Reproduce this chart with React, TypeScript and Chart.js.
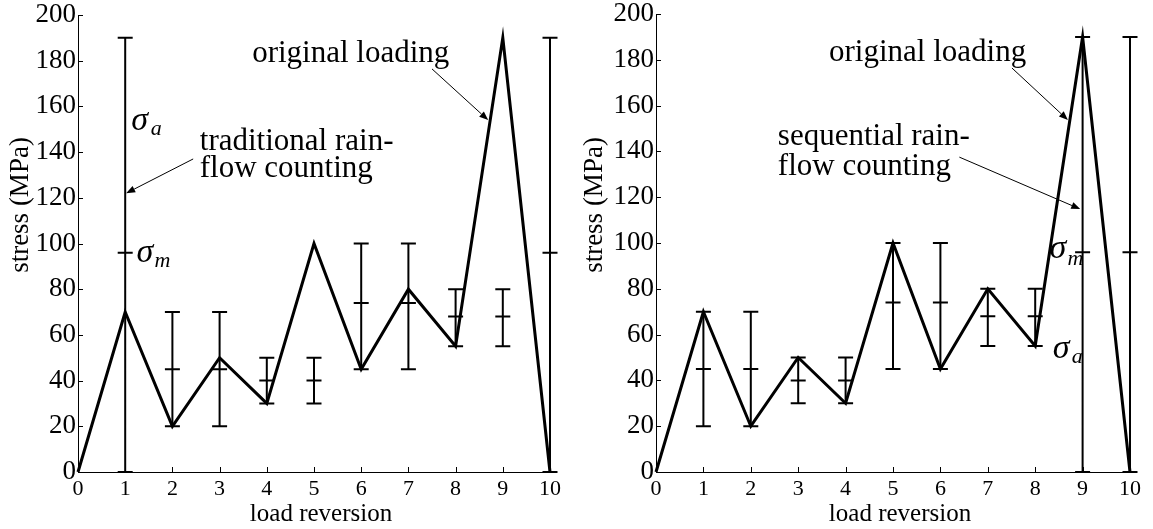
import React, { useEffect, useRef } from "react";
import { Chart, registerables } from "chart.js";

Chart.register(...registerables);

// ---------- data ----------
const reversions = [0, 1, 2, 3, 4, 5, 6, 7, 8, 9, 10];
const originalLoading = [0, 70, 20, 50, 30, 100, 45, 80, 55, 190, 0];
const xTickValues = [0, 1, 2, 3, 4, 5, 6, 7, 8, 9, 10];
const yTickValues = [0, 20, 40, 60, 80, 100, 120, 140, 160, 180, 200];

const traditionalAt = [1, 2, 3, 4, 5, 6, 7, 8, 9, 10];
const traditionalMin = [0, 20, 20, 30, 30, 45, 45, 55, 55, 0];
const traditionalMax = [190, 70, 70, 50, 50, 100, 100, 80, 80, 190];
const traditionalMean = [96, 45, 45, 40, 40, 74, 74, 68, 68, 96];

const sequentialAt = [1, 2, 3, 4, 5, 6, 7, 8, 9, 10];
const sequentialMin = [20, 20, 30, 30, 45, 45, 55, 55, 0, 0];
const sequentialMax = [70, 70, 50, 50, 100, 100, 80, 80, 190, 190];
const sequentialMean = [45, 45, 40, 40, 74, 74, 68, 68, 96, 96];

// ---------- annotations (data coordinates) ----------
type TextAnn = { text: string; x: number; y: number; size: number; italic?: boolean };
type ArrowAnn = { x0: number; y0: number; x1: number; y1: number };

const leftTexts: TextAnn[] = [
  { text: "original loading", x: 3.69, y: 179.4, size: 31 },
  { text: "traditional rain-", x: 2.58, y: 141, size: 31 },
  { text: "flow counting", x: 2.58, y: 129, size: 31 },
  { text: "σ", x: 1.13, y: 149.7, size: 34, italic: true },
  { text: "a", x: 1.54, y: 147.3, size: 22, italic: true },
  { text: "σ", x: 1.24, y: 92, size: 34, italic: true },
  { text: "m", x: 1.62, y: 89.5, size: 22, italic: true },
];
const leftArrows: ArrowAnn[] = [
  { x0: 7.5, y0: 176.4, x1: 8.69, y1: 154 },
  { x0: 2.44, y0: 137, x1: 1.02, y1: 122 },
];

const rightTexts: TextAnn[] = [
  { text: "original loading", x: 3.65, y: 179.4, size: 31 },
  { text: "sequential rain-", x: 2.57, y: 142.8, size: 31 },
  { text: "flow counting", x: 2.57, y: 129.7, size: 31 },
  { text: "σ", x: 8.3, y: 93.4, size: 34, italic: true },
  { text: "m", x: 8.68, y: 90.4, size: 22, italic: true },
  { text: "σ", x: 8.37, y: 49.8, size: 34, italic: true },
  { text: "a", x: 8.77, y: 47.4, size: 22, italic: true },
];
const rightArrows: ArrowAnn[] = [
  { x0: 7.51, y0: 176.4, x1: 8.69, y1: 153.7 },
  { x0: 6.4, y0: 137.5, x1: 8.95, y1: 114.8 },
];

const FONT = '"Liberation Serif", "Times New Roman", serif';
const CAP = 7.5;

type Panel = {
  at: number[];
  min: number[];
  max: number[];
  mean: number[];
  texts: TextAnn[];
  arrows: ArrowAnn[];
  width: number;
  left: number;
  axisWidth: number;
  padRight: number;
  padTop: number;
  yTitleX: number;
};

const panels: Panel[] = [
  {
    at: traditionalAt, min: traditionalMin, max: traditionalMax, mean: traditionalMean,
    texts: leftTexts, arrows: leftArrows,
    width: 576, left: 0, axisWidth: 78, padRight: 26, padTop: 15, yTitleX: 28,
  },
  {
    at: sequentialAt, min: sequentialMin, max: sequentialMax, mean: sequentialMean,
    texts: rightTexts, arrows: rightArrows,
    width: 577, left: 576, axisWidth: 80, padRight: 23, padTop: 14, yTitleX: 26,
  },
];

function makePlugin(p: Panel) {
  return {
    id: "rainflowDecor",
    afterDatasetsDraw(chart: any) {
      const { ctx, chartArea } = chart;
      const xs = chart.scales.x;
      const ys = chart.scales.y;
      const px = (v: number) => xs.getPixelForValue(v);
      const py = (v: number) => ys.getPixelForValue(v);
      ctx.save();
      ctx.strokeStyle = "#000";
      ctx.fillStyle = "#000";

      // inward ticks
      ctx.lineWidth = 1;
      ctx.beginPath();
      xTickValues.forEach((t) => {
        const x = Math.round(px(t)) + 0.5;
        ctx.moveTo(x, chartArea.bottom);
        ctx.lineTo(x, chartArea.bottom - 5);
      });
      yTickValues.forEach((t) => {
        const y = Math.round(py(t)) + 0.5;
        ctx.moveTo(chartArea.left, y);
        ctx.lineTo(chartArea.left + 5, y);
      });
      ctx.stroke();

      // range bars with mean marks
      ctx.lineWidth = 2;
      ctx.lineCap = "butt";
      ctx.beginPath();
      p.at.forEach((xv, i) => {
        const x = px(xv);
        const lo = py(p.min[i]);
        const hi = py(p.max[i]);
        const me = py(p.mean[i]);
        ctx.moveTo(x, lo);
        ctx.lineTo(x, hi);
        [lo, hi, me].forEach((yy) => {
          ctx.moveTo(x - CAP, yy);
          ctx.lineTo(x + CAP, yy);
        });
      });
      ctx.stroke();

      // arrows
      ctx.lineWidth = 1;
      p.arrows.forEach((a) => {
        const x0 = px(a.x0), y0 = py(a.y0), x1 = px(a.x1), y1 = py(a.y1);
        const ang = Math.atan2(y1 - y0, x1 - x0);
        const L = 9, W = 3.5;
        const bx = x1 - L * Math.cos(ang), by = y1 - L * Math.sin(ang);
        ctx.beginPath();
        ctx.moveTo(x0, y0);
        ctx.lineTo(bx, by);
        ctx.stroke();
        ctx.beginPath();
        ctx.moveTo(x1, y1);
        ctx.lineTo(bx + W * Math.sin(ang), by - W * Math.cos(ang));
        ctx.lineTo(bx - W * Math.sin(ang), by + W * Math.cos(ang));
        ctx.closePath();
        ctx.fill();
      });

      // texts
      ctx.textAlign = "left";
      ctx.textBaseline = "alphabetic";
      p.texts.forEach((t) => {
        ctx.font = `${t.italic ? "italic " : ""}${t.size}px ${FONT}`;
        ctx.fillText(t.text, px(t.x), py(t.y));
      });

      // axis titles
      ctx.font = `25px ${FONT}`;
      ctx.textAlign = "center";
      ctx.fillText("load reversion", (chartArea.left + chartArea.right) / 2 + 7, 521);
      ctx.save();
      ctx.translate(p.yTitleX, 205);
      ctx.rotate(-Math.PI / 2);
      ctx.font = `27px ${FONT}`;
      ctx.fillText("stress (MPa)", 0, 0);
      ctx.restore();

      ctx.restore();
    },
  };
}

function PanelChart({ p }: { p: Panel }) {
  const ref = useRef<HTMLCanvasElement | null>(null);
  useEffect(() => {
    if (!ref.current) return;
    const chart = new Chart(ref.current, {
      type: "line",
      data: {
        datasets: [
          {
            data: reversions.map((r, i) => ({ x: r, y: originalLoading[i] })),
            borderColor: "#000",
            borderWidth: 3,
            pointRadius: 0,
            tension: 0,
            borderJoinStyle: "miter",
            fill: false,
            clip: 20,
          } as any,
        ],
      },
      options: {
        animation: false,
        responsive: false,
        maintainAspectRatio: false,
        events: [],
        layout: { padding: { left: 0, right: p.padRight, top: p.padTop, bottom: 0 } },
        plugins: { legend: { display: false }, tooltip: { enabled: false }, title: { display: false } },
        scales: {
          x: {
            type: "linear",
            min: 0,
            max: 10,
            grid: { display: false, drawTicks: false },
            border: { display: true, color: "#000", width: 1 },
            ticks: {
              stepSize: 1,
              autoSkip: false,
              maxRotation: 0,
              color: "#000",
              padding: 6,
              font: { family: FONT, size: 22, lineHeight: 1 },
            },
            afterFit: (s: any) => {
              s.height = 57;
              s.paddingLeft = 0;
              s.paddingRight = 0;
            },
          },
          y: {
            type: "linear",
            min: 0,
            max: 200,
            grid: { display: false, drawTicks: false },
            border: { display: true, color: "#000", width: 1 },
            ticks: {
              stepSize: 20,
              autoSkip: false,
              color: "#000",
              padding: 2,
              font: { family: FONT, size: 27, lineHeight: 1 },
            },
            afterFit: (s: any) => {
              s.width = p.axisWidth;
              s.paddingTop = 0;
              s.paddingBottom = 0;
            },
          },
        },
      },
      plugins: [makePlugin(p)],
    });
    return () => chart.destroy();
  }, [p]);
  return (
    <canvas
      ref={ref}
      width={p.width}
      height={529}
      style={{ position: "absolute", left: p.left, top: 0, width: p.width, height: 529 }}
    />
  );
}

export default function App() {
  return (
    <div style={{ position: "absolute", left: 0, top: 0, width: 1153, height: 529, background: "#fff" }}>
      {panels.map((p, i) => (
        <PanelChart key={i} p={p} />
      ))}
    </div>
  );
}
